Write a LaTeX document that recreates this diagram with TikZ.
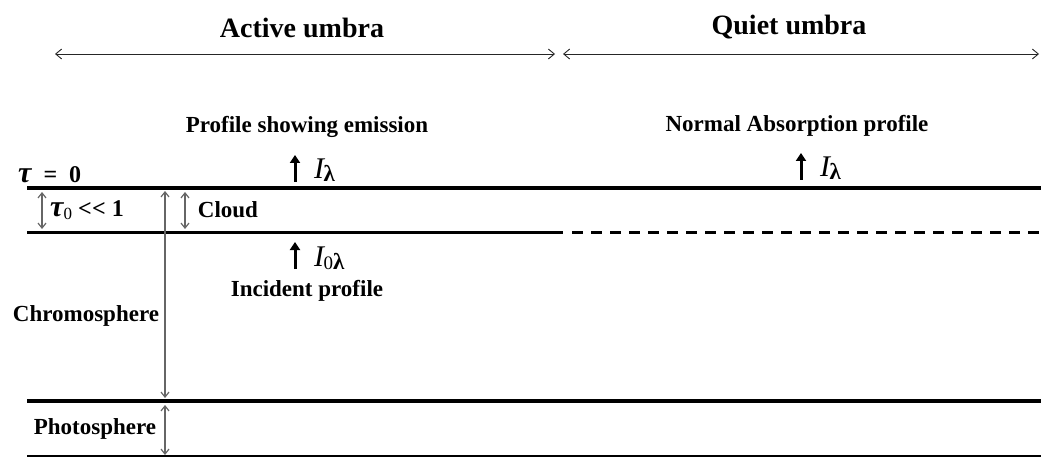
\documentclass[tikz,border=0pt]{standalone}
\usepackage{fontspec}
\setmainfont{Liberation Serif}
\usetikzlibrary{arrows.meta}
\tikzset{
  txt/.style={inner sep=0pt, font=\fontsize{23}{27}\selectfont\bfseries},
  ttl/.style={inner sep=0pt, font=\fontsize{28}{32}\selectfont\bfseries},
  span/.style={line width=0.9pt, black!85, {Straight Barb[length=6pt,width=10pt]}-{Straight Barb[length=6pt,width=10pt]}},
  vspan/.style={line width=1.2pt, black!60, {Straight Barb[length=5pt,width=8pt]}-{Straight Barb[length=5pt,width=8pt]}},
  up/.style={line width=3pt, -{Triangle[length=8pt,width=10pt]}},
  heavy/.style={line width=4pt},
  mid/.style={line width=3pt},
  thin/.style={line width=1.5pt}
}
\newcommand{\flux}[1]{{\fontsize{30}{30}\selectfont\itshape I}\hspace{-0.05em}\raisebox{-0.3em}{\fontsize{23}{24}\selectfont #1}}
\begin{document}
\begin{tikzpicture}[x=1pt,y=-1pt]
\useasboundingbox (0,0) rectangle (1041,457);
% titles
\node[ttl] (active) at (302,28) {Active umbra};
\node[ttl] (quiet) at (789,27) {Quiet umbra};
\coordinate (a1) at (55,54);
\coordinate (a2) at (555,54);
\coordinate (a3) at (563,54);
\coordinate (a4) at (1039,54);
\draw[span] (a1) -- (a2);
\draw[span] (a3) -- (a4);
% profile labels
\node[txt] (emis) at (307,127) {Profile showing emission};
\node[txt] (norm) at (797,126) {Normal Absorption profile};
\node[inner sep=0pt, anchor=west] (il) at (314,170) {\flux{\bfseries λ}};
\node[inner sep=0pt, anchor=west] (ir) at (820,168) {\flux{\bfseries λ}};
\node[inner sep=0pt, anchor=west] (i0) at (314,258) {\flux{{\mdseries\fontsize{19}{20}\selectfont 0}\bfseries λ}};
\coordinate (ul0) at (295,182);
\coordinate (ul1) at (295,155);
\coordinate (ur0) at (801,180);
\coordinate (ur1) at (801,153);
\coordinate (ui0) at (295,269);
\coordinate (ui1) at (295,242);
\draw[up] (ul0) -- (ul1);
\draw[up] (ur0) -- (ur1);
\draw[up] (ui0) -- (ui1);
\node[txt] (inc) at (307,291) {Incident profile};
% layer boundaries
\coordinate (t0l) at (27,188);
\coordinate (t0r) at (1041,188);
\coordinate (cbl) at (27,232);
\coordinate (cbm) at (563,232);
\coordinate (cbd) at (572,232);
\coordinate (cbr) at (1041,232);
\coordinate (phl) at (27,401);
\coordinate (phr) at (1041,401);
\coordinate (bl) at (27,456);
\coordinate (br) at (1041,456);
\draw[heavy] (t0l) -- (t0r);
\draw[mid] (cbl) -- (cbm);
\draw[mid, dash pattern=on 11pt off 8pt] (cbd) -- (cbr);
\draw[heavy] (phl) -- (phr);
\draw[thin] (bl) -- (br);
% left labels
\node[inner sep=0pt, anchor=west] (tau) at (18,175) {\bfseries{\fontsize{30}{30}\selectfont\itshape τ}\fontsize{24}{26}\selectfont\ \ = \ 0};
\node[inner sep=0pt, anchor=west] (tau0) at (50,210) {\bfseries{\fontsize{30}{30}\selectfont\itshape τ}\raisebox{-0.25em}{\fontsize{17}{18}\selectfont\mdseries 0}\fontsize{24}{26}\selectfont\ {<}\kern0.5pt{<}\ 1};
\node[txt] (cloud) at (228,210) {Cloud};
\node[txt] (chromo) at (86,316) {Chromosphere};
\node[txt] (photo) at (95,429) {Photosphere};
% vertical extents
\coordinate (v1t) at (42,192);
\coordinate (v1b) at (42,229);
\coordinate (v2t) at (185,192);
\coordinate (v2b) at (185,229);
\coordinate (v3t) at (165,191);
\coordinate (v3b) at (165,398);
\coordinate (v4t) at (165,405);
\coordinate (v4b) at (165,455);
\draw[vspan] (v1t) -- (v1b);
\draw[vspan] (v2t) -- (v2b);
\draw[vspan] (v3t) -- (v3b);
\draw[vspan] (v4t) -- (v4b);
\end{tikzpicture}
\end{document}
